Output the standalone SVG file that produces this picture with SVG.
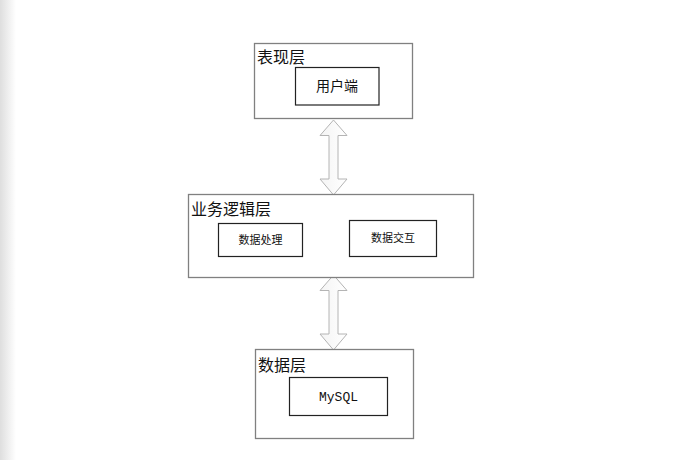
<svg xmlns="http://www.w3.org/2000/svg" width="687" height="460" viewBox="0 0 687 460">
<defs>
<linearGradient id="edge" x1="0" y1="0" x2="1" y2="0">
<stop offset="0" stop-color="#dedede"/>
<stop offset="1" stop-color="#ffffff"/>
</linearGradient>
<linearGradient id="arrowfill" x1="0" y1="0" x2="1" y2="0">
<stop offset="0" stop-color="#f4f4f4"/>
<stop offset="1" stop-color="#ffffff"/>
</linearGradient>
<style>
.outer{fill:#fff;stroke:#808080;stroke-width:1.3}
.inner{fill:#fff;stroke:#222;stroke-width:1.2}
.title{font-family:"Noto Sans CJK SC","Noto Sans",sans-serif;font-size:16px;fill:#111}
.lbl{font-family:"Noto Sans CJK SC","Noto Sans",sans-serif;font-size:11px;fill:#111;text-anchor:middle}
.lbl2{font-family:"Noto Sans CJK SC","Noto Sans",sans-serif;font-size:14px;fill:#111;text-anchor:middle}
.mono{font-family:"Liberation Mono",monospace;font-size:13px;fill:#111;text-anchor:middle}
.arr{fill:url(#arrowfill);stroke:#b4b4b4;stroke-width:1}
</style>
</defs>
<rect width="687" height="460" fill="#fff"/>
<rect width="16" height="460" fill="url(#edge)"/>
<g id="connectors">
<path class="arr" d="M333.5,120 L347,135.5 L338,135.5 L338,179 L347,179 L333.5,195 L320,179 L329,179 L329,135.5 L320,135.5 Z"/>
<path class="arr" d="M333.5,275 L347,290.5 L338,290.5 L338,334 L347,334 L333.5,350 L320,334 L329,334 L329,290.5 L320,290.5 Z"/>
</g>
<g id="presentation">
<rect class="outer" x="254.5" y="43.5" width="158" height="75"/>
<text class="title" x="257" y="63">表现层</text>
<g id="client">
<rect class="inner" x="295.5" y="67.5" width="83.5" height="37.5"/>
<text class="lbl2" x="337" y="91">用户端</text>
</g>
</g>
<g id="logic">
<rect class="outer" x="188.5" y="194.5" width="285" height="83"/>
<text class="title" x="191" y="215">业务逻辑层</text>
<g id="process">
<rect class="inner" x="218.5" y="223.5" width="84" height="33"/>
<text class="lbl" x="260.5" y="244">数据处理</text>
</g>
<g id="interact">
<rect class="inner" x="349.5" y="220.5" width="87" height="36"/>
<text class="lbl" x="393" y="242">数据交互</text>
</g>
</g>
<g id="data">
<rect class="outer" x="255.5" y="349.5" width="158" height="89"/>
<text class="title" x="258" y="371">数据层</text>
<g id="mysql">
<rect class="inner" x="289.5" y="377.5" width="98" height="38"/>
<text class="mono" x="338.5" y="401">MySQL</text>
</g>
</g>
</svg>
